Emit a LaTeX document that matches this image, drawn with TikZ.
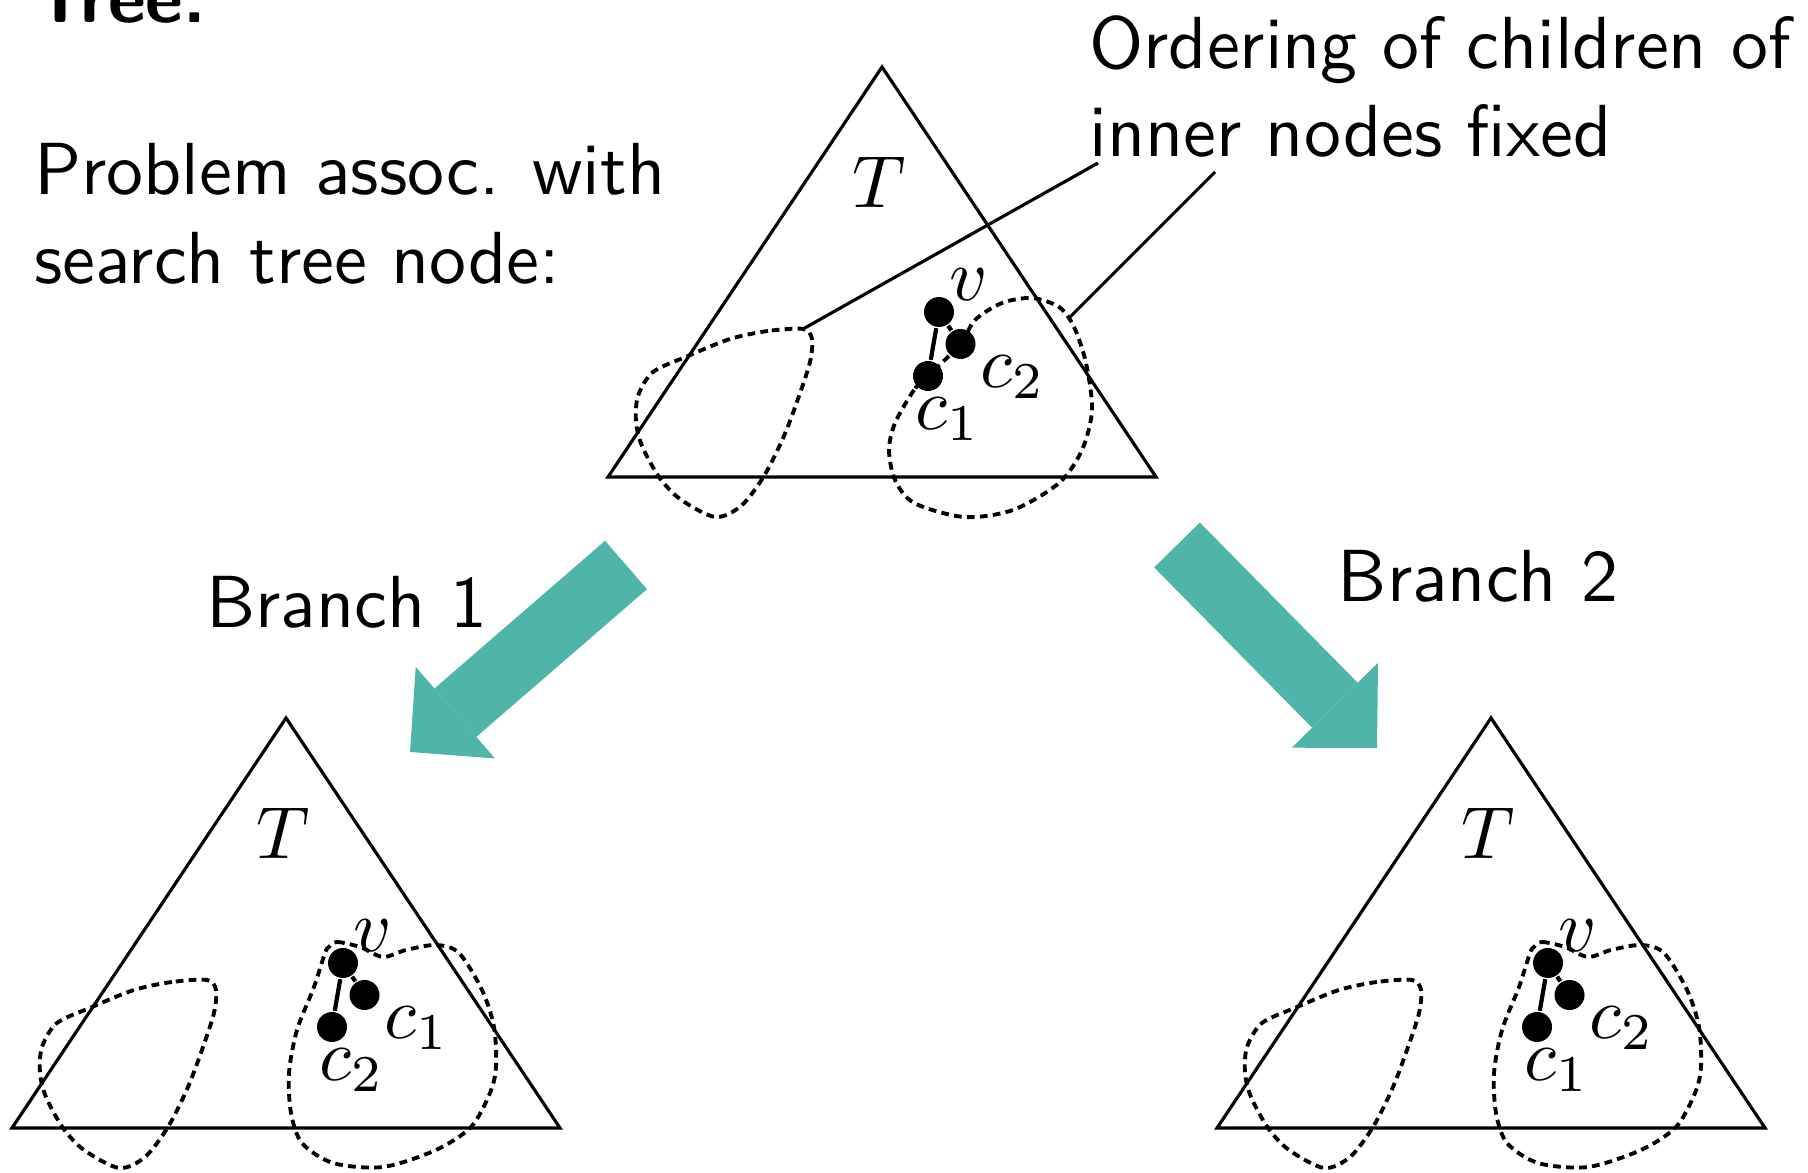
\RequirePackage{fix-cm}
\documentclass[tikz,border=0pt]{standalone}
\usepackage{fontspec}
\usetikzlibrary{arrows.meta}
\definecolor{branchteal}{RGB}{79,181,168}
\tikzset{
	treeline/.style={draw, line width=0.45pt},
	region/.style={draw, line width=0.55pt, dash pattern=on 1.1pt off 0.75pt},
	treenode/.style={circle, fill, inner sep=0pt, minimum size=0.15cm},
	note/.style={inner sep=0pt, align=left},
	brancharr/.style={draw=branchteal, line width=0.32cm, -{Triangle[length=0.3cm, width=0.605cm, line width=0pt]}},
	% search tree T with the inner node v and its children
	pics/searchtree/.style 2 args={code={
		\draw[treeline] (0,0) -- (5.48,0) -- (2.74,4.10) -- cycle;
		\node (-T) at (2.71,2.95) {$T$};
		\draw[region] plot[smooth cycle] coordinates {(1.95,1.48) (1.60,1.46) (1.22,1.38) (0.80,1.21) (0.45,1.05) (0.30,0.81) (0.28,0.55) (0.34,0.31) (0.51,0.00) (0.72,-0.22) (1.07,-0.40) (1.33,-0.29) (1.56,0.01) (1.76,0.41) (1.91,0.81) (2.02,1.15) (2.04,1.38)};
		\coordinate (-corner) at (1.95,1.48);
		\node[treenode] (-v) at (3.31,1.65) {};
		\node[treenode] (-right) at (3.525,1.33) {};
		\node[treenode] (-low) at (3.20,1.01) {};
		\draw[line width=0.6pt] (-v) -- (-right) (-v) -- (-low);
		\node (-vlab) at (3.61,1.92) {$v$};
		\node (-rightlab) at (4.05,1.00) {$#1$};
		\node (-lowlab) at (3.40,0.58) {$#2$};
	}},
	pics/splitregion/.style={code={
		\draw[region] plot[smooth cycle] coordinates {(3.20,1.01) (3.06,0.87) (2.87,0.54) (2.81,0.27) (2.87,-0.03) (3.06,-0.26) (3.56,-0.40) (4.05,-0.33) (4.51,-0.06) (4.74,0.27) (4.84,0.67) (4.78,1.14) (4.66,1.50) (4.51,1.70) (4.24,1.79) (3.94,1.74) (3.67,1.57) (3.525,1.33)};
		\coordinate (-edge) at (4.60,1.58);
	}},
	pics/hullregion/.style={code={
		\draw[region] plot[smooth cycle] coordinates {(3.17,1.81) (3.25,1.86) (3.48,1.81) (3.71,1.71) (3.94,1.78) (4.24,1.83) (4.47,1.75) (4.70,1.38) (4.82,1.01) (4.84,0.61) (4.78,0.35) (4.59,0.01) (4.24,-0.22) (3.71,-0.39) (3.21,-0.35) (2.90,-0.15) (2.79,0.15) (2.77,0.55) (2.85,0.98) (3.02,1.41) (3.13,1.75)};
	}},
}

\begin{document}
\begin{tikzpicture}[x=0.5cm, y=0.5cm, font=\fontsize{10.5}{12.6}\selectfont\sffamily]
	\useasboundingbox (0,0) rectangle (18.08,11.73);
	\clip (0,0) rectangle (18.08,11.73);

	% Texts
	\node[note, anchor=base west] (title) at (0.32,11.50) {\bfseries Tree.};
	\node[note, anchor=north west] (problem) at (0.33,10.31) {Problem assoc. with\\search tree node:};
	\node[note, anchor=north west] (ordering) at (10.88,11.59) {Ordering of children of\\inner nodes fixed};
	\node[note, anchor=base west] (branch1) at (2.05,5.45) {Branch 1};
	\node[note, anchor=base west] (branch2) at (13.365,5.71) {Branch 2};

	% Trees
	\pic (top) at (6.08,6.96) {searchtree={c_2}{c_1}};
	\pic (top) at (6.08,6.96) {splitregion};
	\pic (left) at (0.12,0.45) {searchtree={c_1}{c_2}};
	\pic (left) at (0.12,0.45) {hullregion};
	\pic (right) at (12.17,0.45) {searchtree={c_2}{c_1}};
	\pic (right) at (12.17,0.45) {hullregion};

	% Callout
	\coordinate (ord1) at (10.98,10.10);
	\coordinate (ord2) at (12.15,10.01);
	\draw[treeline] (ord1) -- (top-corner);
	\draw[treeline] (ord2) -- (top-edge);

	% Branching arrows
	\coordinate (split1) at (6.26,6.08);
	\coordinate (child1) at (4.10,4.21);
	\coordinate (split2) at (11.77,6.28);
	\coordinate (child2) at (13.77,4.25);
	\draw[brancharr] (split1) -- (child1);
	\draw[brancharr] (split2) -- (child2);
\end{tikzpicture}
\end{document}
